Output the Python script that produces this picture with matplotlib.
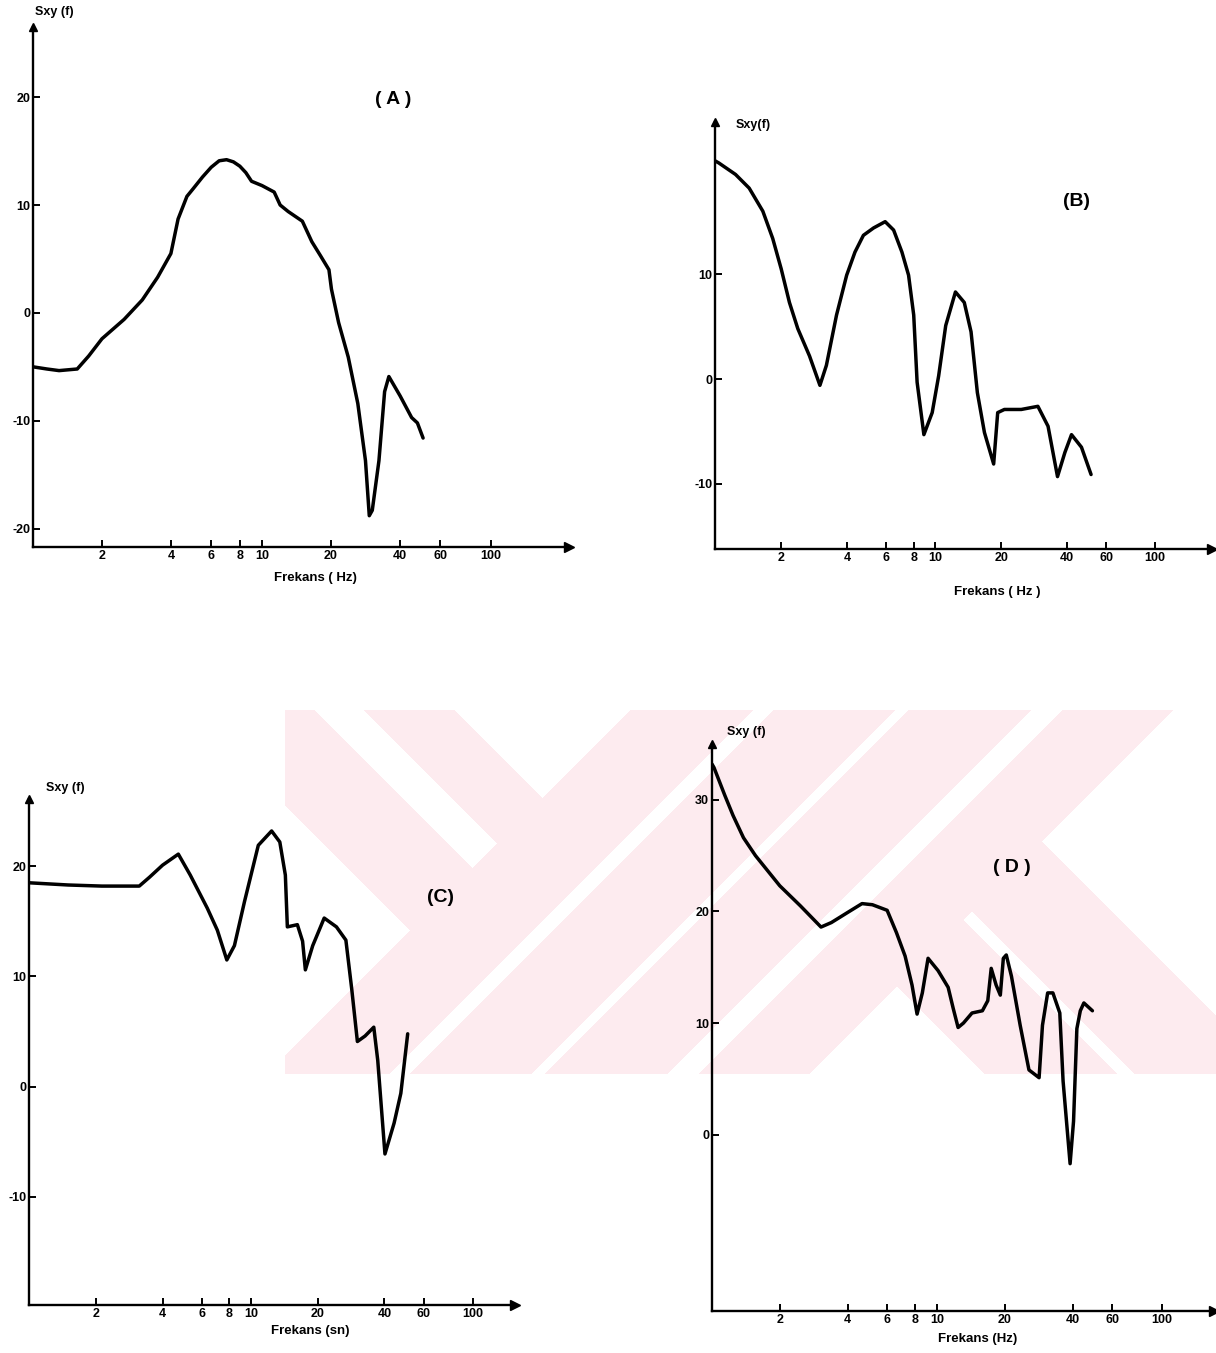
import numpy as np
import matplotlib
matplotlib.use('Agg')
import matplotlib.pyplot as plt
from matplotlib.ticker import NullLocator

W, H = 1216, 1353

xticks = [2, 4, 6, 8, 10, 20, 40, 60, 100]
xtick_labels = ['2', '4', '6', '8', '10', '20', '40', '60', '100']

# (A)
fA = [1.0, 1.15, 1.3, 1.56, 1.75, 2.0, 2.5, 3.0, 3.5, 4.0, 4.3, 4.7, 5.0, 5.5, 6.0, 6.5,
      7.0, 7.5, 8.0, 8.5, 9.0, 10.0, 11.3, 12.0, 13.0, 15.0, 16.5, 18.0, 19.6, 20.1,
      21.6, 23.8, 26.2, 28.3, 29.4, 30.3, 32.4, 34.3, 35.8, 40.1, 45.0, 47.7, 50.5]
sA = [-5.0, -5.2, -5.35, -5.2, -4.0, -2.4, -0.6, 1.2, 3.3, 5.5, 8.7, 10.8, 11.5, 12.6, 13.5, 14.1,
      14.2, 14.0, 13.6, 13.0, 12.2, 11.8, 11.2, 10.0, 9.4, 8.5, 6.6, 5.3, 4.0, 2.2,
      -0.9, -4.1, -8.4, -13.7, -18.8, -18.3, -13.7, -7.3, -5.9, -7.7, -9.7, -10.2, -11.6]

# (B)
fB = [1.0, 1.04, 1.24, 1.43, 1.65, 1.83, 2.0, 2.18, 2.38, 2.69, 3.0, 3.21, 3.57, 3.97, 4.33,
      4.73, 5.26, 5.94, 6.49, 7.08, 7.59, 8.01, 8.30, 8.91, 9.72, 10.4, 11.2, 12.4, 13.6,
      14.6, 15.6, 16.8, 18.5, 19.3, 20.7, 24.7, 29.4, 32.7, 36.1, 39.0, 41.8, 46.4, 51.3]
sB = [20.8, 20.6, 19.5, 18.2, 16.0, 13.4, 10.5, 7.3, 4.8, 2.2, -0.6, 1.3, 6.1, 9.9, 12.1,
      13.7, 14.4, 15.0, 14.2, 12.1, 9.9, 6.1, -0.3, -5.3, -3.2, 0.3, 5.1, 8.3, 7.3,
      4.5, -1.3, -5.1, -8.1, -3.2, -2.9, -2.9, -2.6, -4.5, -9.3, -7.0, -5.3, -6.5, -9.1]

# (C)
fC = [1.0, 1.5, 2.13, 3.14, 3.49, 4.0, 4.71, 5.33, 6.36, 7.06, 7.79, 8.43, 9.36, 10.8,
      12.4, 13.5, 14.3, 14.6, 16.2, 17.1, 17.6, 19.0, 21.4, 24.3, 26.8, 28.5, 30.2,
      32.7, 35.8, 37.3, 40.2, 44.2, 47.4, 50.9]
sC = [18.5, 18.3, 18.2, 18.2, 19.0, 20.1, 21.1, 19.2, 16.2, 14.2, 11.5, 12.8, 16.8, 21.9,
      23.2, 22.2, 19.2, 14.5, 14.7, 13.2, 10.6, 12.8, 15.3, 14.5, 13.3, 8.8, 4.1,
      4.6, 5.4, 2.4, -6.1, -3.3, -0.6, 4.8]

# (D)
fD = [1.0, 1.02, 1.14, 1.24, 1.38, 1.56, 2.0, 2.47, 3.05, 3.39, 4.0, 4.64, 5.16, 6.0, 6.6,
      7.21, 7.74, 8.15, 8.6, 9.12, 10.1, 11.2, 11.8, 12.4, 13.1, 14.3, 15.9, 16.8, 17.4,
      18.3, 19.1, 19.7, 20.3, 21.4, 23.4, 25.6, 28.4, 29.4, 31.0, 32.7, 35.1, 36.3, 39.0,
      40.4, 41.8, 43.3, 44.9, 49.0]
sD = [33.2, 32.9, 30.4, 28.6, 26.6, 25.0, 22.3, 20.5, 18.6, 19.0, 19.9, 20.7, 20.6, 20.1, 18.1,
      16.0, 13.4, 10.8, 12.7, 15.8, 14.7, 13.2, 11.3, 9.6, 10.0, 10.9, 11.1, 12.0, 14.9,
      13.4, 12.5, 15.8, 16.1, 14.2, 9.8, 5.8, 5.1, 9.8, 12.7, 12.7, 10.9, 4.8, -2.6,
      1.2, 9.5, 11.1, 11.8, 11.1]

fig = plt.figure(figsize=(W / 100, H / 100), dpi=100)

# pale pink watermark behind the panels
gx, gy = np.meshgrid(np.arange(W), np.arange(H))
u = gx + gy
v = gx - gy
inside = (gx >= 285) & (gy >= 710) & (gy <= 1073)
slash = (((u >= 1340) & (u <= 1462)) | ((u >= 1483) & (u <= 1604))
         | ((u >= 1618) & (u <= 1740)) | ((u >= 1772) & (u <= 1882)))
back_l = (((v >= -520) & (v <= -396)) | ((v >= -346) & (v <= -256))) & (u < 1462)
back_r = (((v >= -89) & (v <= 43)) | ((v >= 61) & (v <= 200))) & (u > 1772)
mask = inside & (slash | back_l | back_r)
img = np.ones((H, W, 3))
img[mask] = np.array([253, 235, 239]) / 255
bg = fig.add_axes([0, 0, 1, 1])
bg.imshow(img, extent=(0, W, H, 0), aspect='auto', interpolation='nearest')
bg.set_xlim(0, W)
bg.set_ylim(H, 0)
bg.axis('off')

font = 'Liberation Sans'


def px_text(x, y, s, size, **kw):
    fig.text(x / W, 1 - y / H, s, ha='center', va='center', fontsize=size,
             family=font, fontweight='bold', **kw)


def panel(left, right, top, bottom, xmax, ylim, yticks, f, s):
    ax = fig.add_axes([left / W, 1 - bottom / H, (right - left) / W, (bottom - top) / H])
    ax.patch.set_visible(False)
    ax.plot(f, s, color='black', lw=2.5, solid_joinstyle='round', solid_capstyle='round')
    ax.set_xscale('log')
    ax.set_xlim(1, xmax)
    ax.set_ylim(*ylim)
    ax.set_xticks(xticks)
    ax.set_xticklabels(xtick_labels)
    ax.xaxis.set_minor_locator(NullLocator())
    ax.set_yticks(yticks)
    ax.set_yticklabels([str(t) for t in yticks])
    for sp in ['top', 'right']:
        ax.spines[sp].set_visible(False)
    for sp in ['left', 'bottom']:
        ax.spines[sp].set_linewidth(1.7)
    ax.tick_params(axis='both', direction='in', length=5, width=1.4, labelsize=9, pad=2)
    for lab in ax.get_xticklabels() + ax.get_yticklabels():
        lab.set_family(font)
        lab.set_fontweight('bold')
    ax.plot(1, 0, '>', color='black', ms=7, transform=ax.transAxes, clip_on=False)
    ax.plot(0, 1, '^', color='black', ms=6, transform=ax.transAxes, clip_on=False)
    return ax


panel(33, 569, 27, 547, 219, (-21.7, 26.5), [-20, -10, 0, 10, 20], fA, sA)
panel(715, 1212, 122, 549, 182, (-16.2, 24.5), [-10, 0, 10], fB, sB)
panel(29, 515, 799, 1305, 155, (-19.8, 26.1), [-10, 0, 10, 20], fC, sC)
panel(712, 1214, 744, 1311, 170, (-15.8, 35.0), [0, 10, 20, 30], fD, sD)

px_text(54, 12, 'Sxy (f)', 9)
px_text(393, 99, '( A )', 14)
px_text(315, 578, 'Frekans ( Hz)', 9.5)

px_text(753, 125, 'Sxy(f)', 9)
px_text(1077, 202, '(B)', 14)
px_text(997, 592, 'Frekans ( Hz )', 9.5)

px_text(65, 788, 'Sxy (f)', 9)
px_text(440, 898, '(C)', 14)
px_text(310, 1331, 'Frekans (sn)', 9.5)

px_text(746, 732, 'Sxy (f)', 9)
px_text(1012, 868, '( D )', 14)
px_text(978, 1339, 'Frekans (Hz)', 9.5)

fig.savefig('out.png', dpi=100)
